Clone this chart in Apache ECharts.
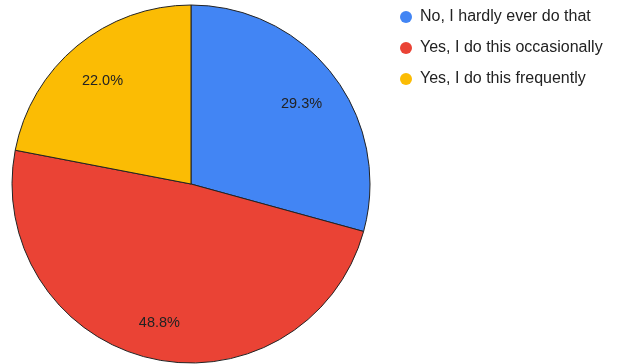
<!DOCTYPE html>
<html>
<head>
<meta charset="utf-8">
<script src="https://cdn.jsdelivr.net/npm/echarts@6/dist/echarts.min.js"></script>
<style>
  html, body { margin: 0; padding: 0; background: #fff; }
  #chart { width: 623px; height: 364px; }
</style>
</head>
<body>
<div id="chart"></div>
<script>
// Survey answers and their shares (percent)
const categories = ['No, I hardly ever do that', 'Yes, I do this occasionally', 'Yes, I do this frequently'];
const shares = [29.3, 48.8, 22.0];
const colors = ['#4285F4', '#EA4335', '#FBBC04'];

const chart = echarts.init(document.getElementById('chart'));
const sliceData = categories.map((name, i) => ({ name, value: shares[i], itemStyle: { color: colors[i] } }));

chart.setOption({
  animation: false,
  legend: {
    orient: 'vertical',
    left: 395,
    top: 4,
    icon: 'circle',
    itemWidth: 12,
    itemHeight: 12,
    itemGap: 15,
    itemStyle: { borderWidth: 0 },
    textStyle: {
      fontFamily: 'Liberation Sans, Arial',
      fontSize: 16,
      color: '#222',
      lineHeight: 16,
      padding: [0, 0, 0, 3]
    },
    data: categories
  },
  series: [
    {
      type: 'pie',
      center: [191, 184],
      radius: [0, 179],
      startAngle: 90,
      clockwise: true,
      silent: true,
      itemStyle: { borderColor: '#222', borderWidth: 1 },
      label: { show: false },
      labelLine: { show: false },
      data: sliceData
    },
    {
      // transparent copy that only carries the percentage labels
      type: 'pie',
      center: [191, 188],
      radius: [0, 272],
      startAngle: 90,
      clockwise: true,
      silent: true,
      legendHoverLink: false,
      itemStyle: { color: 'rgba(0,0,0,0)', borderWidth: 0 },
      label: {
        show: true,
        position: 'inside',
        formatter: p => p.value.toFixed(1) + '%',
        fontFamily: 'Liberation Sans, Arial',
        fontSize: 14.5,
        color: '#222'
      },
      labelLine: { show: false },
      data: categories.map((name, i) => ({ name, value: shares[i] }))
    }
  ]
});
</script>
</body>
</html>
